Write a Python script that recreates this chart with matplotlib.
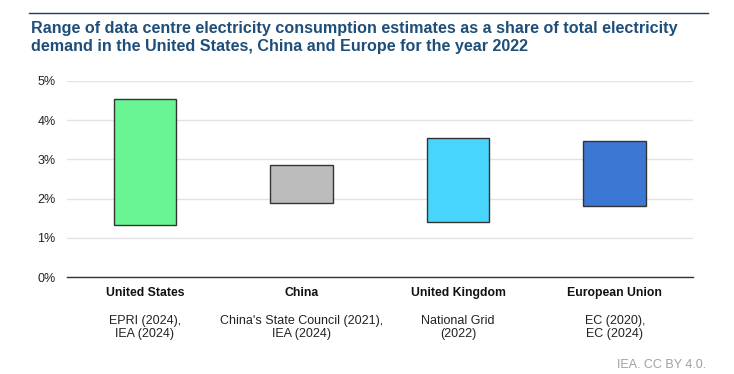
import matplotlib.pyplot as plt

regions = ["United States", "China", "United Kingdom", "European Union"]
sources = ["EPRI (2024),\nIEA (2024)", "China's State Council (2021),\nIEA (2024)",
           "National Grid\n(2022)", "EC (2020),\nEC (2024)"]
low = [1.32, 1.88, 1.41, 1.81]
high = [4.54, 2.86, 3.54, 3.47]
colors = ["#69f593", "#bcbcbc", "#47d4fd", "#3c78d3"]
yticks = [0, 1, 2, 3, 4, 5]

plt.rcParams["font.family"] = ["Liberation Sans", "DejaVu Sans"]
fig = plt.figure(figsize=(7.34, 3.74), dpi=100)
ax = fig.add_axes([66.7 / 734, 1 - 277.3 / 374, 626.3 / 734, (277.3 - 80.7) / 374])

x = [i + 0.5 for i in range(len(regions))]
heights = [h - l for h, l in zip(high, low)]
ax.bar(x, heights, bottom=low, width=0.4, color=colors, edgecolor="#333333", linewidth=1, zorder=3)

ax.set_xlim(0, 4)
ax.set_ylim(0, 5)
ax.set_yticks(yticks)
ax.set_yticklabels([f"{t}%" for t in yticks], fontsize=9, color="#222222")
ax.set_xticks([])
ax.grid(axis="y", color="#e3e3e3", linewidth=1, zorder=0)
for s in ["top", "right", "left"]:
    ax.spines[s].set_visible(False)
ax.spines["bottom"].set_color("#333333")
ax.spines["bottom"].set_linewidth(1)
ax.tick_params(axis="y", length=0, pad=8)

for xi, r, s in zip(x, regions, sources):
    ax.annotate(r, (xi, 0), xytext=(0, -11), textcoords="offset points", xycoords="data",
                ha="center", va="center", fontsize=8.8, fontweight="bold", color="#111111")
    ax.annotate(s, (xi, 0), xytext=(0, -36), textcoords="offset points", xycoords="data",
                ha="center", va="center", fontsize=9, color="#222222", linespacing=1.15)

fig.add_artist(plt.Line2D([29 / 734, 708 / 734], [1 - 13.3 / 374, 1 - 13.3 / 374],
                          color="#1f3864", linewidth=1))
fig.text(31 / 734, 1 - 38 / 374,
         "Range of data centre electricity consumption estimates as a share of total electricity\n"
         "demand in the United States, China and Europe for the year 2022",
         fontsize=11.6, fontweight="bold", color="#1f4e79", ha="left", va="center", linespacing=1.25)
fig.text(706 / 734, 1 - 365 / 374, "IEA. CC BY 4.0.", fontsize=9, color="#a0a0a0", ha="right", va="center")

plt.savefig("out.png", dpi=100)
